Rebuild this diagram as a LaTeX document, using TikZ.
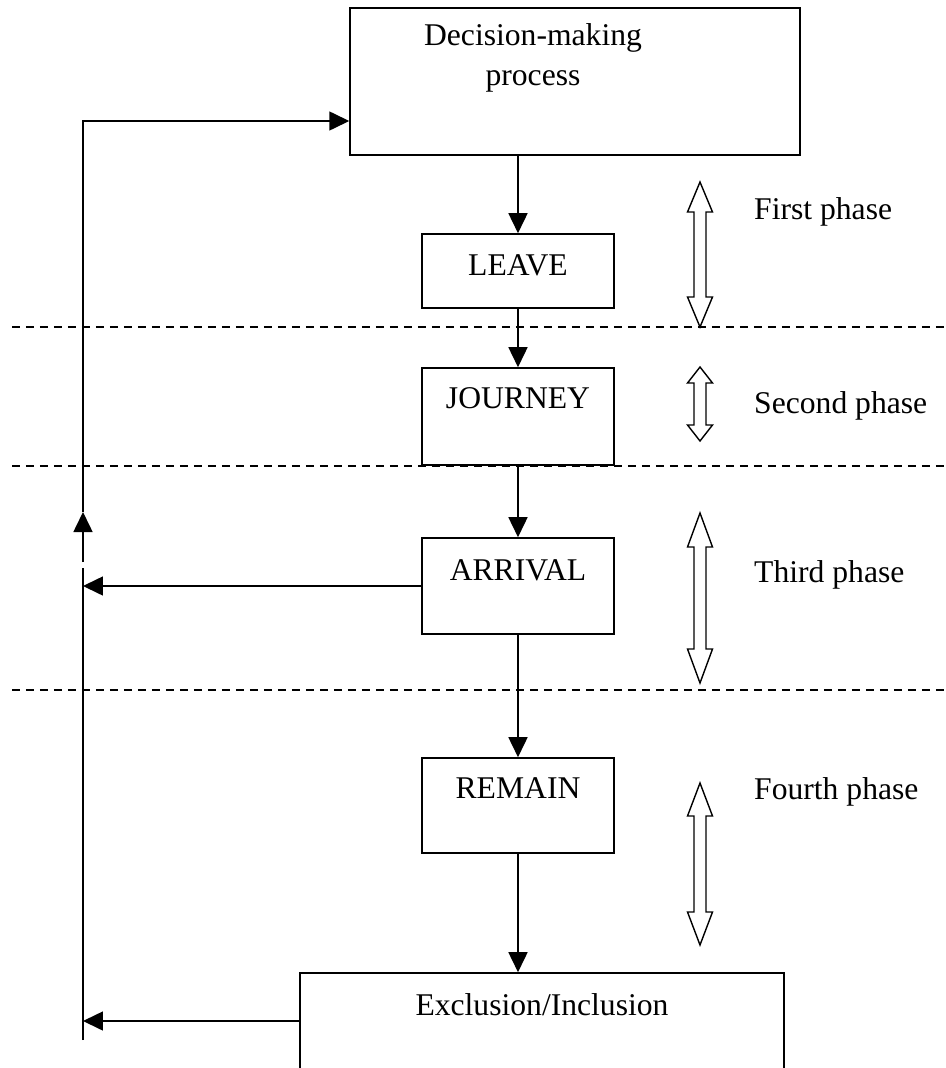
\documentclass[tikz,border=0pt]{standalone}
\usepackage{fontspec}
\setmainfont{Liberation Serif}
\usetikzlibrary{arrows.meta}
\tikzset{
	stage/.style={draw,line width=0.9pt,inner sep=0pt,minimum width=3.84cm},
	flow/.style={line width=0.9pt,-{Triangle[length=0.4cm,width=0.38cm]}},
	border/.style={line width=0.6pt,dash pattern=on 0.16cm off 0.12cm},
	phase/.style={anchor=west},
}
\begin{document}
\begin{tikzpicture}[x=0.02cm,y=-0.02cm,font=\fontsize{18}{22.8}\selectfont]
	\useasboundingbox (0,0) rectangle (946,1068);
	\clip (0,0) rectangle (946,1068);
	% boxes
	\node[stage,minimum width=9cm,minimum height=2.94cm] (dec) at (575,81.5) {};
	\node[align=center] (dectext) at (533,58) {Decision-making\\process};
	\node[stage,text height=0.83cm,text depth=0.65cm] (leave) at (518,271) {LEAVE};
	\node[stage,text height=0.81cm,text depth=1.13cm] (journey) at (518,416.5) {JOURNEY};
	\node[stage,text height=0.85cm,text depth=1.07cm] (arrival) at (518,586) {ARRIVAL};
	\node[stage,text height=0.81cm,text depth=1.09cm] (remain) at (518,805.5) {REMAIN};
	\node[stage,minimum width=9.68cm,text height=0.85cm,text depth=1.4cm] (excl) at (542,1029.25) {Exclusion/Inclusion};
	% phases
	\foreach \y in {327,466,690}
	\draw[border] (12,\y) -- (946,\y);
	\foreach \ytop/\ybot/\hl in {182/327/30, 367/441/16, 513/683/34, 783/945/33}
	\draw[line width=0.8pt] (694,\ytop+\hl) -- (687.5,\ytop+\hl) -- (700,\ytop) -- (712.5,\ytop+\hl)
	-- (706,\ytop+\hl) -- (706,\ybot-\hl) -- (712.5,\ybot-\hl) -- (700,\ybot)
	-- (687.5,\ybot-\hl) -- (694,\ybot-\hl) -- cycle;
	\foreach \y/\txt/\n in {212/First phase/first, 406/Second phase/second, 575/Third phase/third, 792/Fourth phase/fourth}
	\node[phase] (\n) at (748,\y) {\txt};
	% flow
	\draw[flow] (dec.south -| leave.north) -- (leave.north);
	\draw[flow] (leave) -- (journey);
	\draw[flow] (journey) -- (arrival);
	\draw[flow] (arrival) -- (remain);
	\draw[flow] (remain.south) -- (remain.south |- excl.north);
	% way back
	\coordinate (corner) at (83,121);
	\coordinate (tip) at (83,512);
	\coordinate (gaptop) at (83,562);
	\coordinate (gapbot) at (83,568);
	\coordinate (back) at (83,1021);
	\coordinate (foot) at (83,1040);
	\draw[flow] (arrival.west) -- (arrival.west -| corner);
	\draw[flow] (excl.west |- back) -- (back);
	\draw[line width=0.9pt] (foot) -- (gapbot);
	\draw[flow] (gaptop) -- (tip);
	\draw[flow] (tip) -- (corner) -- (dec.west |- corner);
\end{tikzpicture}
\end{document}
